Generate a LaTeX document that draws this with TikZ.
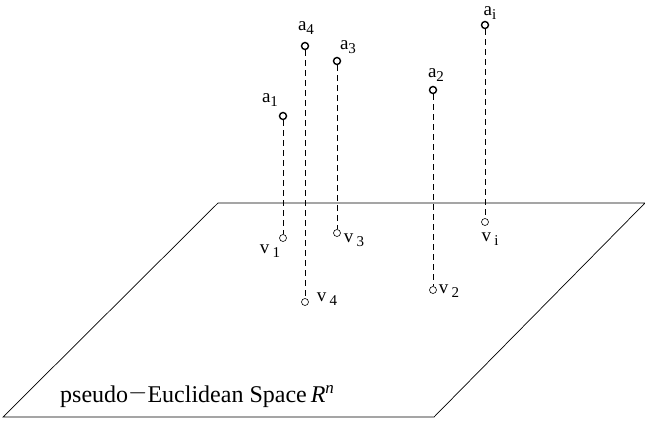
\documentclass[tikz,border=0pt]{standalone}
\usepackage{fontspec}
\setmainfont{Liberation Serif}
\usetikzlibrary{positioning}
\newcommand{\lbl}[2]{#1\raisebox{-4.5pt}{\fontsize{15}{15}\selectfont #2}}

\begin{document}
\begin{tikzpicture}[x=1pt,y=-1pt,
  apt/.style={circle,draw,line width=1.4pt,inner sep=0pt,minimum size=7pt},
  vpt/.style={circle,draw,line width=0.6pt,inner sep=0pt,minimum size=7pt},
  proj/.style={dashed,dash pattern=on 6pt off 4pt,line width=0.6pt},
  lab/.style={inner sep=0pt,font=\fontsize{19}{19}\selectfont}]
\useasboundingbox (0,0) rectangle (645,424);
% the plane
\draw[line width=0.7pt] (218,203)--(645,203)--(434,417)--(3,417)--cycle;
\node[anchor=base west,inner sep=0pt,font=\fontsize{24}{24}\selectfont] (space) at (60,402)
  {pseudo\raisebox{2.5pt}{$-$}Euclidean Space\,\textit{R}\raisebox{9pt}{\fontsize{17}{17}\selectfont\textit{n}}};
% points above and their images
\node[apt] (a1) at (283,116) {};
\node[apt] (a4) at (305,46) {};
\node[apt] (a3) at (337,61) {};
\node[apt] (a2) at (433,90) {};
\node[apt] (ai) at (485,25) {};
\node[vpt] (v1) at (283,238) {};
\node[vpt] (v4) at (305,302) {};
\node[vpt] (v3) at (337,233) {};
\node[vpt] (v2) at (433,290) {};
\node[vpt] (vi) at (485,222) {};
\foreach \p in {1,4,3,2,i}
  {\draw[proj] (a\p)--(v\p);}
% labels
\node[lab] (la1) at (270,100) {\lbl{a}{1}};
\node[lab] (la4) at (306,28) {\lbl{a}{4}};
\node[lab] (la3) at (348,47) {\lbl{a}{3}};
\node[lab] (la2) at (436,75) {\lbl{a}{2}};
\node[lab] (lai) at (490,13) {\lbl{a}{i}};
\node[lab] (lv1) at (270,251) {\lbl{v\,}{1}};
\node[lab] (lv4) at (327,299) {\lbl{v\,}{4}};
\node[lab] (lv3) at (354,240) {\lbl{v\,}{3}};
\node[lab] (lv2) at (449,291) {\lbl{v\,}{2}};
\node[lab] (lvi) at (490,239) {\lbl{v\,}{i}};
\end{tikzpicture}
\end{document}
